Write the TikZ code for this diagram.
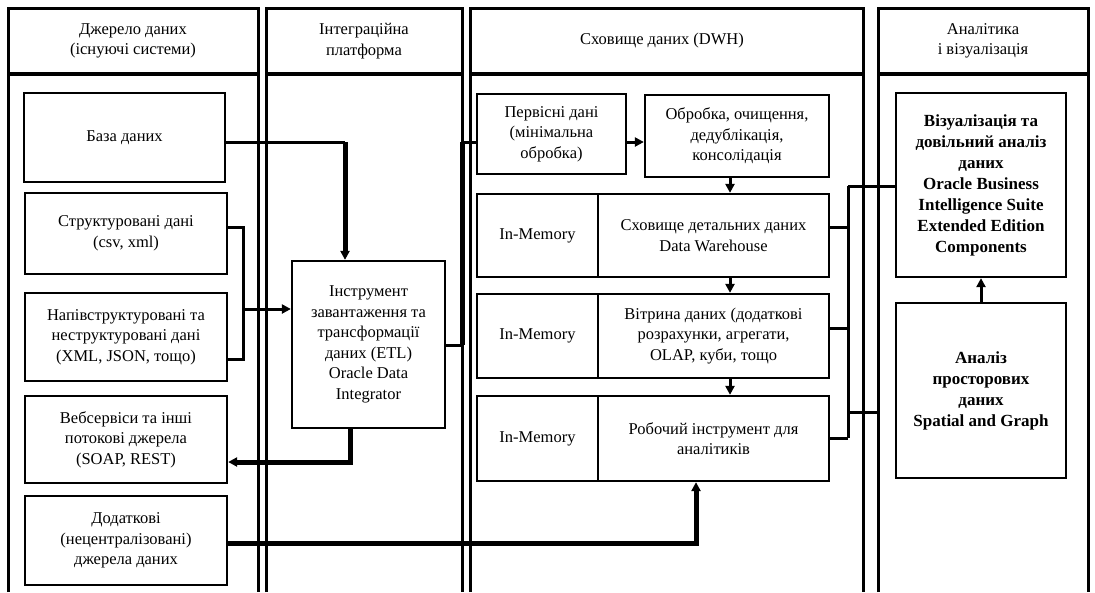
\documentclass[tikz,border=0pt]{standalone}
\usepackage{fontspec}
\setmainfont{Liberation Serif}
\usetikzlibrary{arrows.meta}
\newcommand{\fsreg}{\fontsize{16.5pt}{20.5pt}\selectfont}
\newcommand{\fsbold}{\fontsize{17pt}{21pt}\selectfont\bfseries}
\begin{document}
\begin{tikzpicture}[x=1pt,y=-1pt,
  colline/.style={line width=3pt},
  hdrline/.style={line width=3.5pt},
  box/.style={draw, line width=2.3pt, align=center, inner sep=2pt, font=\fsreg},
  bbox/.style={box, font=\fsbold},
  hdr/.style={align=center, font=\fsreg},
  conn/.style={line width=3pt},
  tconn/.style={line width=5pt},
  arr/.style={-{Triangle[length=9pt,width=9pt]}}
]
\fill[white] (0,0) rectangle (1095,592);
\useasboundingbox (0,0) rectangle (1095,592);

% columns
\draw[colline] (8,592) -- (8,8) -- (258,8) -- (258,592);
\draw[hdrline] (8,74) -- (258,74);
\draw[colline] (266,592) -- (266,8) -- (462,8) -- (462,592);
\draw[hdrline] (266,74) -- (462,74);
\draw[colline] (470,592) -- (470,8) -- (863,8) -- (863,592);
\draw[hdrline] (470,74) -- (863,74);
\draw[colline] (878,592) -- (878,8) -- (1088,8) -- (1088,592);
\draw[hdrline] (878,74) -- (1088,74);

% headers
\node[hdr] (h1) at (133,41) {Джерело даних\\(існуючі системи)};
\node[hdr] (h2) at (364,41) {Інтеграційна\\платформа};
\node[hdr] (h3) at (662,41) {Сховище даних (DWH)};
\node[hdr] (h4) at (983,41) {Аналітика\\і візуалізація};

% sources
\node[box, minimum width=201pt, minimum height=89pt] (baza) at (124.5,137.5) {База даних};
\node[box, minimum width=202pt, minimum height=81pt] (struct) at (126,233.5) {Структуровані дані\\(csv, xml)};
\node[box, minimum width=202pt, minimum height=88pt] (napiv) at (126,337) {Напівструктуровані та\\неструктуровані дані\\(XML, JSON, тощо)};
\node[box, minimum width=202pt, minimum height=87pt] (veb) at (126,439.5) {Вебсервіси та інші\\потокові джерела\\(SOAP, REST)};
\node[box, minimum width=202pt, minimum height=89pt] (dod) at (126,540.5) {Додаткові\\(нецентралізовані)\\джерела даних};

% ETL
\node[box, minimum width=153pt, minimum height=167pt] (etl) at (368.5,344.5) {Інструмент\\завантаження та\\трансформації\\даних (ETL)\\Oracle Data\\Integrator};

% DWH
\node[box, minimum width=149pt, minimum height=80pt] (perv) at (551.5,134) {Первісні дані\\(мінімальна\\обробка)};
\node[box, minimum width=184pt, minimum height=82pt] (obr) at (737,136) {Обробка, очищення,\\дедублікація,\\консолідація};
\node[box, minimum width=121pt, minimum height=83pt] (r1a) at (537.5,235.5) {In-Memory};
\node[box, minimum width=231pt, minimum height=83pt] (r1m) at (713.5,235.5) {Сховище детальних даних\\Data Warehouse};
\node[box, minimum width=121pt, minimum height=84pt] (r2a) at (537.5,336) {In-Memory};
\node[box, minimum width=231pt, minimum height=84pt] (r2m) at (713.5,336) {Вітрина даних (додаткові\\розрахунки, агрегати,\\OLAP, куби, тощо};
\node[box, minimum width=121pt, minimum height=85pt] (r3a) at (537.5,438.5) {In-Memory};
\node[box, minimum width=231pt, minimum height=85pt] (r3m) at (713.5,438.5) {Робочий інструмент для\\аналітиків};

% analytics
\node[bbox, minimum width=170pt, minimum height=184pt] (vis) at (981,185) {Візуалізація та\\довільний аналіз\\даних\\Oracle Business\\Intelligence Suite\\Extended Edition\\Components};
\node[bbox, minimum width=170pt, minimum height=175pt] (analiz) at (981,390.5) {Аналіз\\просторових\\даних\\Spatial and Graph};

% connectors: sources -> ETL
\coordinate (c1) at (345,142);
\draw[conn] (baza.east |- c1) -- (c1);
\draw[tconn, arr] (c1) -- (etl.north -| c1);

\coordinate (c2) at (243,227);
\coordinate (c3) at (243,359);
\coordinate (c4) at (243,309);
\draw[conn] (struct.east |- c2) -- (c2) -- (c3) -- (napiv.east |- c3);
\draw[conn, arr] (c4) -- (etl.west |- c4);

\coordinate (c5) at (350,462);
\draw[tconn, arr] (etl.south -| c5) -- (c5) -- (veb.east |- c5);

\coordinate (c6) at (696,543);
\draw[tconn, arr] (dod.east |- c6) -- (c6) -- (r3m.south -| c6);

% ETL -> DWH
\coordinate (c7) at (462,345);
\coordinate (c8) at (462,142);
\draw[conn] (etl.east |- c7) -- (c7);
\draw[tconn] (c7) -- (c8);
\draw[conn] (c8) -- (perv.west |- c8);
\draw[conn, arr] (perv.east |- c8) -- (obr.west |- c8);

\coordinate (c9) at (730,0);
\draw[conn, arr] (obr.south -| c9) -- (r1m.north -| c9);
\draw[conn, arr] (r1m.south -| c9) -- (r2m.north -| c9);
\draw[conn, arr] (r2m.south -| c9) -- (r3m.north -| c9);

% DWH -> analytics
\coordinate (d1) at (848,186);
\coordinate (e1) at (848,227);
\coordinate (e2) at (848,328);
\coordinate (d2) at (848,438);
\coordinate (d3) at (848,412);
\coordinate (d4) at (880,412);
\draw[conn] (d1) -- (d2);
\draw[conn] (d1) -- (vis.west |- d1);
\draw[conn] (r1m.east |- e1) -- (e1);
\draw[conn] (r2m.east |- e2) -- (e2);
\draw[conn] (r3m.east |- d2) -- (d2);
\draw[conn] (d3) -- (d4);

\draw[conn, arr] (analiz.north) -- (vis.south);
\end{tikzpicture}
\end{document}
